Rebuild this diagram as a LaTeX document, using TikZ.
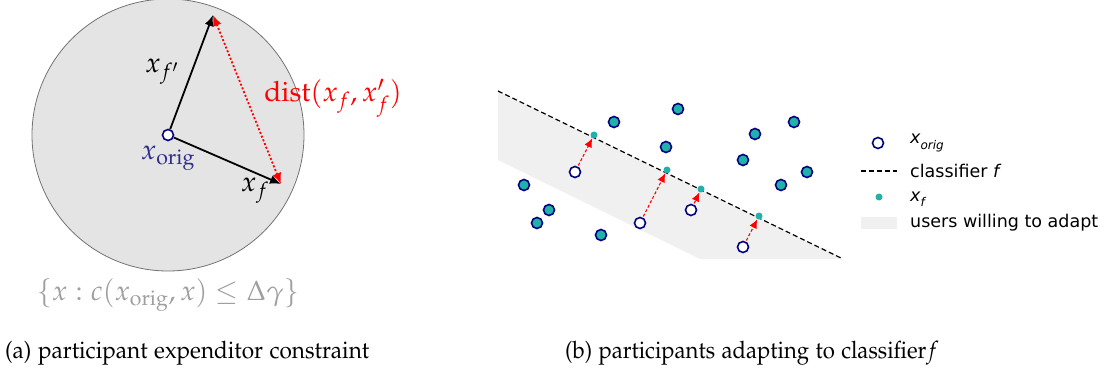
\documentclass[tikz,border=0pt]{standalone}
\usepackage[no-math]{fontspec}
\usepackage{mathpazo}
\newfontfamily\dejavu{DejaVu Sans}
\newcommand\pal{\fontencoding{OT1}\fontfamily{pplx}\selectfont}
\usetikzlibrary{arrows.meta}
\definecolor{navyc}{HTML}{000080}
\definecolor{tealc}{HTML}{20B2AA}
\definecolor{origblue}{HTML}{2E2E8C}
\definecolor{ballfill}{HTML}{E4E4E4}
\definecolor{regionfill}{HTML}{F0F0F0}
\tikzset{
  ballstyle/.style={circle, draw=gray!90!black, line width=0.8pt, fill=ballfill, minimum size=272pt, inner sep=0pt},
  origdot/.style={circle, draw=navyc, line width=1.6pt, fill=white, minimum size=11pt, inner sep=0pt},
  fulldot/.style={circle, draw=navyc, line width=1.6pt, fill=tealc, minimum size=11pt, inner sep=0pt},
  xfdot/.style={circle, fill=tealc, minimum size=7pt, inner sep=0pt},
  blackarrow/.style={line width=1.8pt, -{Latex[length=11pt,width=9pt]}},
  redarrow/.style={red, line width=1.1pt, densely dashed, -{Latex[length=9pt,width=8pt]}, shorten <=1pt},
  distarrow/.style={red, line width=1.8pt, dash pattern=on 2pt off 2pt, {Latex[length=11pt,width=9pt]}-{Latex[length=11pt,width=9pt]}},
  mathlbl/.style={font=\fontsize{28}{32}\selectfont, inner sep=0pt},
  legtext/.style={font=\dejavu\fontsize{17.5}{20}\selectfont, anchor=west, inner sep=0pt},
  captext/.style={font=\pal\fontsize{24}{28}\selectfont, anchor=west, inner sep=0pt}
}
\begin{document}
\begin{tikzpicture}[x=1pt,y=-1pt]
\useasboundingbox (0,0) rectangle (1109,377);
% ---------- left panel ----------
\node[ballstyle] (ball) at (168,135) {};
\node[origdot] (orig) at (168,135) {};
\coordinate (xfp) at (213,15);
\coordinate (xf) at (281,184);
\draw[blackarrow] (orig) -- (xfp);
\draw[blackarrow] (orig) -- (xf);
\draw[distarrow] (xfp) -- (xf);
\node[mathlbl] (lxfp) at (162,72) {$x_{f'}$};
\node[mathlbl, text=origblue] (lorig) at (168,158) {$x_{\mathrm{orig}}$};
\node[mathlbl] (lxf) at (255,191) {$x_f$};
\node[mathlbl, text=red] (ldist) at (333,98) {$\mathrm{dist}(x_f,x'_f)$};
\node[mathlbl, text=gray!75] (lset) at (168,295) {$\{x : c(x_{\mathrm{orig}},x)\le \Delta\gamma\}$};
\node[captext] (capa) at (5,353) {\scalebox{0.94}[1]{(a) participant expenditor constraint}};
% ---------- right panel ----------
\coordinate (lineA) at (498,91);
\coordinate (lineB) at (843,259);
\fill[regionfill] (lineA) -- (lineB) -- (700,259) -- (498,160) -- cycle;
\draw[black, line width=1.2pt, dash pattern=on 5pt off 3pt] (lineA) -- (lineB);
\foreach \n/\p in {a/{(614,122)}, b/{(678,109)}, c/{(666,147)}, d/{(755,134)}, e/{(794,122)}, f/{(743,160)}, g/{(807,172)}, h/{(781,185)}, i/{(524,185)}, j/{(549,210)}, k/{(537,223)}, l/{(601,235)}}
  \node[fulldot] (full\n) at \p {};
\node[origdot] (o1) at (575,172) {};
\node[origdot] (o2) at (640,223) {};
\node[origdot] (o3) at (691,210) {};
\node[origdot] (o4) at (743,247) {};
\node[xfdot] (d1) at (594,135) {};
\node[xfdot] (d2) at (667,170) {};
\node[xfdot] (d3) at (701,189) {};
\node[xfdot] (d4) at (759,216) {};
\foreach \i in {1,2,3,4}
  \draw[redarrow] (o\i) -- (d\i);
% legend
\node[origdot] (legorig) at (878,143) {};
\node[legtext] (legorigt) at (910,143) {\itshape x\raisebox{-0.3em}{\fontsize{12}{12}\selectfont orig}};
\coordinate (legl1) at (861,171);
\coordinate (legl2) at (897,171);
\draw[black, line width=1.2pt, dash pattern=on 5pt off 3pt] (legl1) -- (legl2);
\node[legtext] (legclf) at (910,171) {classifier \textit{f}};
\node[xfdot] (legxf) at (879,197) {};
\node[legtext] (legxft) at (910,199) {\itshape x\raisebox{-0.3em}{\fontsize{12}{12}\selectfont f}};
\node[fill=regionfill, minimum width=36pt, minimum height=12pt, inner sep=0pt] (legreg) at (879,223) {};
\node[legtext] (legregt) at (910,223) {users willing to adapt};
\node[captext] (capb) at (565,353) {\scalebox{0.92}[1]{(b) participants adapting to classifier$f$}};
\end{tikzpicture}
\end{document}
